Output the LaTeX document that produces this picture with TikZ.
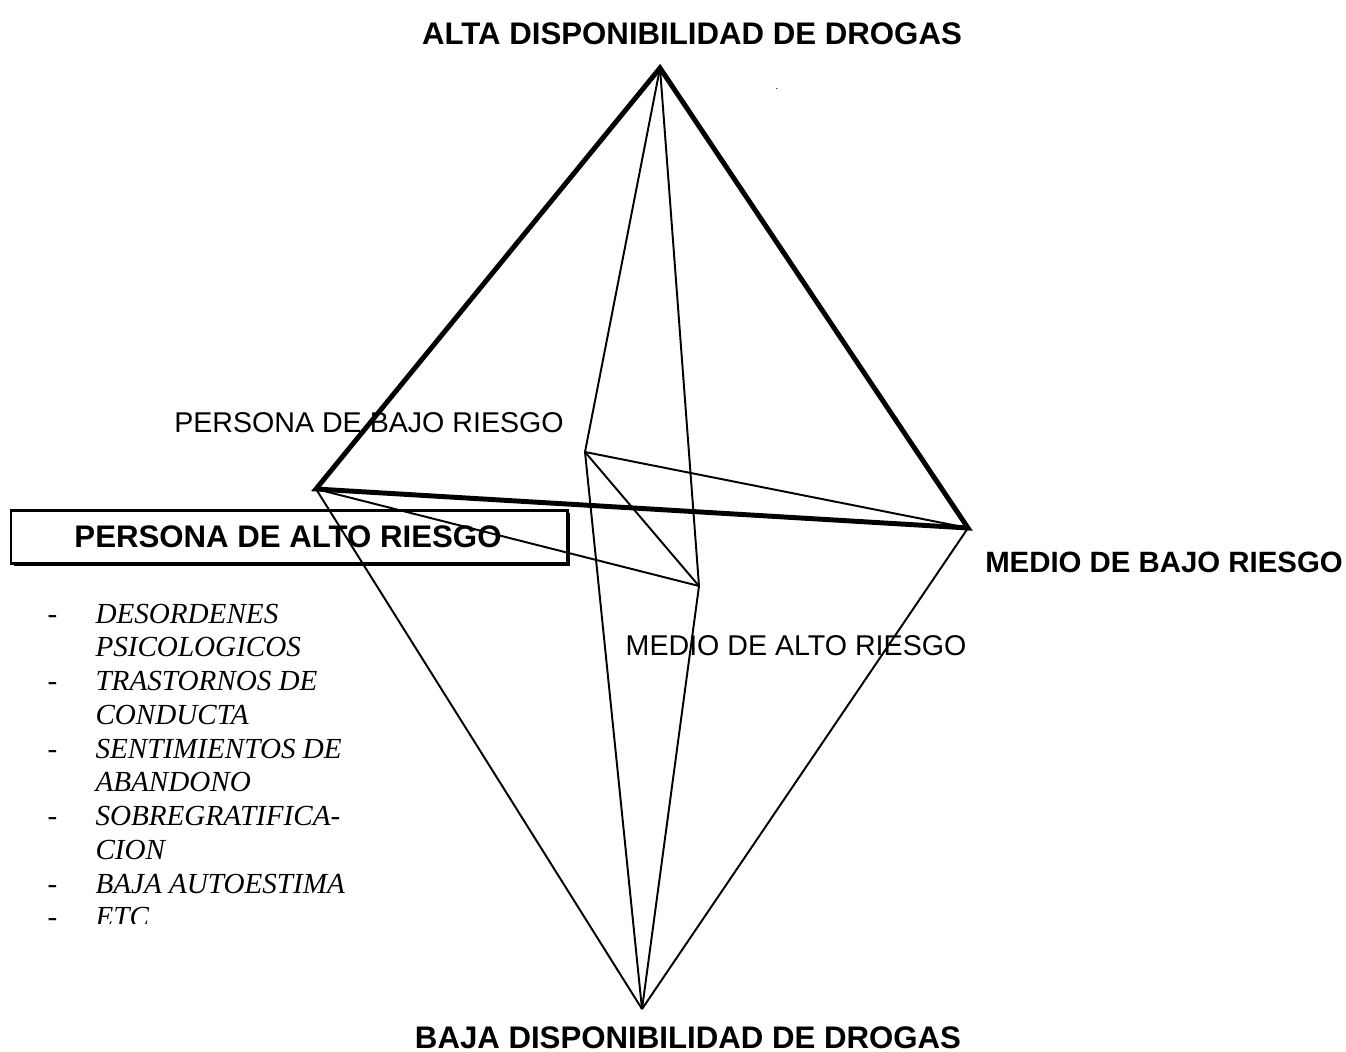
\documentclass[tikz,border=0pt]{standalone}
\usepackage{fontspec}
\setmainfont{Liberation Serif}
\setsansfont{Liberation Sans}
\usepackage{tikz}

\begin{document}
\begin{tikzpicture}[x=0.3846pt,y=-0.3846pt,
  thickedge/.style={line width=1.9pt},
  thinedge/.style={line width=0.75pt},
  boldlabel/.style={inner sep=0pt,anchor=base,font=\sffamily\bfseries\fontsize{12}{14}\selectfont},
  plainlabel/.style={inner sep=0pt,anchor=base,font=\sffamily\fontsize{11}{13}\selectfont},
  itemtext/.style={inner sep=0pt,anchor=base west,font=\itshape\fontsize{11.2}{13}\selectfont},
  itemdash/.style={inner sep=0pt,anchor=base west,font=\fontsize{11.2}{13}\selectfont}]
\useasboundingbox (0,0) rectangle (1346,1051);

% box with shadow
\fill (14,513) rectangle (570,566);
\draw[line width=1.15pt,fill=white] (11,510) rectangle (567,563);
\node[boldlabel] (altoriesgo) at (288,547) {PERSONA DE ALTO RIESGO};

% corners
\coordinate (alta) at (660,68);
\coordinate (baja) at (642,1009);
\coordinate (persona) at (316,489);
\coordinate (medio) at (968,528);
\coordinate (pbajo) at (585,452);
\coordinate (malto) at (699,586);

\draw[thickedge] (alta) -- (persona) -- (medio) -- cycle;
\draw[thinedge] (alta) -- (pbajo);
\draw[thinedge] (alta) -- (malto);
\draw[thinedge] (pbajo) -- (medio);
\draw[thinedge] (pbajo) -- (malto);
\draw[thinedge] (persona) -- (malto);
\draw[thinedge] (pbajo) -- (baja);
\draw[thinedge] (malto) -- (baja);
\draw[thinedge] (persona) -- (baja);
\draw[thinedge] (medio) -- (baja);

\node[boldlabel] (titulo) at (692,45) {ALTA DISPONIBILIDAD DE DROGAS};
\node[boldlabel] (pie) at (688,1048) {BAJA DISPONIBILIDAD DE DROGAS};
\node[boldlabel,font=\sffamily\bfseries\fontsize{11.3}{13}\selectfont] (mbajo) at (1164,572) {MEDIO DE BAJO RIESGO};
\node[plainlabel] (bajoriesgo) at (369,432) {PERSONA DE BAJO RIESGO};
\node[plainlabel] (altomedio) at (796,655) {MEDIO DE ALTO RIESGO};
\node[inner sep=0pt,anchor=base,font=\fontsize{4}{5}\selectfont] (punto) at (777,90) {.};

% list
\node[itemdash] (d1) at (47,623) {-};
\node[itemtext] (t1) at (95,623) {DESORDENES};
\node[itemtext] (t2) at (95,656.75) {PSICOLOGICOS};
\node[itemdash] (d2) at (47,690.5) {-};
\node[itemtext] (t3) at (95,690.5) {TRASTORNOS DE};
\node[itemtext] (t4) at (95,724.25) {CONDUCTA};
\node[itemdash] (d3) at (47,758) {-};
\node[itemtext] (t5) at (95,758) {SENTIMIENTOS DE};
\node[itemtext] (t6) at (95,791.75) {ABANDONO};
\node[itemdash] (d4) at (47,825.5) {-};
\node[itemtext] (t7) at (95,825.5) {SOBREGRATIFICA-};
\node[itemtext] (t8) at (95,859.25) {CION};
\node[itemdash] (d5) at (47,893) {-};
\node[itemtext] (t9) at (95,893) {BAJA AUTOESTIMA};
\begin{scope}
\clip (0,880) rectangle (400,923);
\node[itemdash] (d6) at (47,926.75) {-};
\node[itemtext] (t10) at (95,926.75) {ETC};
\end{scope}
\end{tikzpicture}
\end{document}
